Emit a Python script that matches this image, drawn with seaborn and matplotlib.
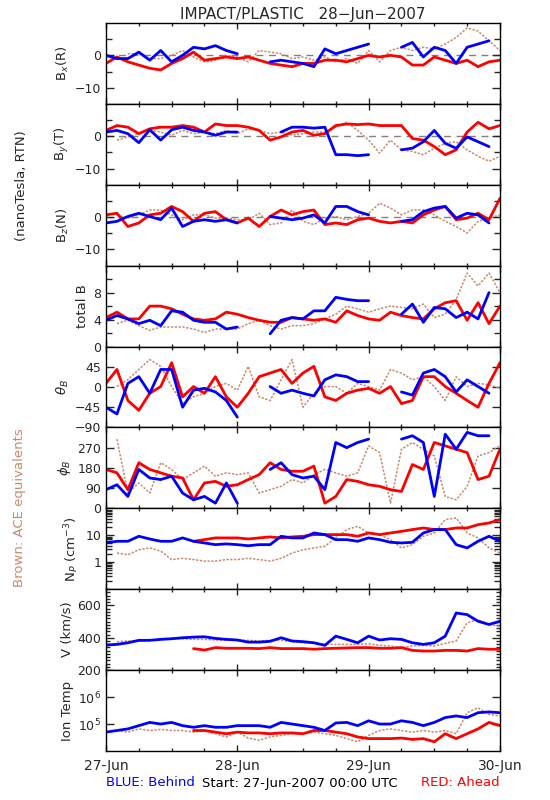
import numpy as np
import pandas as pd
import seaborn as sns
from matplotlib import pyplot as plt
from matplotlib.ticker import MultipleLocator, FixedLocator, NullLocator

nan = np.nan

# time axis: hours since 27-Jun-2007 00:00 UTC, 2-hour samples
hours = np.arange(0, 73, 2)
day_labels = ['27-Jun', '28-Jun', '29-Jun', '30-Jun']

# B_x (R), nT
bx_blue = [0, -1, -1, 1, -1.5, 1.5, -2, 0, 2.5, 2, 3, 1.5, 0.5, nan, nan, -2, -1.5, -2, -2.5,
           -3.5, 2, 0.5, 1.5, 2.5, 3.5, nan, nan, 2.5, 4, -0.5, 2.5, 1.5, -2.5, 2.5, 3.5, 4.5, nan]
bx_red = [-2.5, -0.5, -2, -3, -4, -4.5, -2.5, -1, 1, -1.5, -1, -0.5, -1, -0.5, -1.5, -2.5, -3, -3.5, -2.5,
          -2.5, -1.5, -1.5, -2, -1, 0, -0.5, 0, -0.5, -3, -3, -0.5, -1.5, -2.5, -1.5, -3.5, -2, -1.5]
bx_brown = [nan, nan, 0.5, 0.5, -1, -1, 0, 1.5, -0.5, -2, -1.5, 0, -0.5, -2, 1.5, 1, 0.5, -1, -0.5,
            -1.5, -0.5, -2, -1, -2.5, 1.5, -2, 1.5, 2.5, 1.5, 2.5, 2, 3.5, 5.5, 8.5, 7.5, 4.5, 1.5]

# B_y (T), nT
by_blue = [1.3, 1.8, 0.8, -2, 2, -1.2, 2, 2.8, 1.8, 1.3, 0.3, 1.3, 1.3, nan, nan, nan, 1.3, 2.8, 2.8,
           2.5, 2.8, -5.7, -5.7, -6, -5.7, nan, nan, -4.2, -3.7, -1.7, 1.8, -2.2, -3.7, -0.2, -1.7, -3.2, nan]
by_red = [1.8, 3.3, 2.8, 0.8, 2.3, 2.8, 2.8, 3.3, 2.8, 1.3, 3.8, 3.3, 3.3, 2.8, 1.8, -1.2, -0.2, 1.3, 1.8,
          0.3, 0.8, 3.3, 3.8, 3.6, 3.8, 3.3, 3.3, 3.3, -0.7, -1.2, -3.2, -5.7, -4.2, 1.3, 4.3, 2.3, 3.3]
by_brown = [nan, -1.2, -0.2, 0.8, 1.8, 1.3, 0.3, 1.8, 0.8, 1.3, 0.8, 1.8, 0.8, 2.3, 1.8, 0.8, 1.3, 0.3, 0.8,
            1.3, 1.3, 2.8, 4.3, 1.8, -1.2, -5.2, -1.2, -4.2, -4.7, -5.7, -3.7, -2.2, -1.7, -4.2, -6.2, -7.7, -6.2]

# B_z (N), nT
bz_blue = [-1.8, -1.3, 0.2, 1.2, 0.2, -0.8, 2.8, -2.9, -1.3, -0.8, -1.3, -0.8, -1.8, nan, nan, 0.2, -0.3, -0.8, -0.3,
           0.7, -1.8, 3.3, 3.3, 1.7, 0.7, nan, nan, -1.3, -0.8, 1.7, 2.8, 3.3, -0.3, 1.2, 0.7, -1.8, nan]
bz_red = [0.7, 1.2, -2.9, -1.8, 0.7, 1.2, 3.3, 1.7, -1.3, 1.2, 1.7, -0.8, -1.8, -0.3, -2.9, 0.2, 2.2, 0.7, 1.7,
          2.2, -2.3, -1.8, -2.3, -0.8, -0.3, -1.3, -1.8, -1.3, -1.8, 0.7, 2.2, 3.3, -0.8, -0.3, 1.2, -0.8, 5.8]
bz_brown = [nan, 0.7, -0.3, 0.7, 2.2, 2.2, 0.7, -0.8, 0.7, 0.7, -0.3, -0.3, -0.8, -0.8, 1.2, -2.3, -1.8, 2.2, -1.3,
            -2.3, -0.3, 0.2, -0.8, 0.2, 1.2, 4.3, 2.8, 0.7, 2.2, 2.2, 0.7, -1.3, -2.9, -4.9, -1.3, -0.3, 0.7]

# total B, nT
bt_blue = [3.9, 4.6, 4.1, 3.4, 3.9, 3.1, 5.3, 5.1, 3.9, 3.6, 3.6, 2.6, 2.9, nan, nan, 1.9, 3.9, 4.3, 4.1,
           5.3, 5.3, 7.3, 7.0, 6.8, 6.8, nan, nan, 4.8, 6.3, 3.6, 5.8, 5.6, 4.3, 5.1, 4.1, 8.0, nan]
bt_red = [4.3, 5.1, 4.1, 4.1, 6.0, 6.0, 5.6, 4.8, 4.1, 3.9, 4.1, 5.1, 4.8, 4.3, 3.9, 3.6, 3.6, 4.3, 4.1,
          3.9, 4.1, 3.6, 5.3, 4.6, 4.1, 3.9, 5.1, 4.6, 4.3, 4.1, 5.6, 6.5, 6.8, 3.9, 6.5, 3.4, 6.0]
bt_brown = [nan, 3.4, 3.9, 3.1, 2.4, 2.9, 2.9, 2.9, 2.6, 2.1, 2.6, 2.6, 2.6, 3.4, 3.9, 3.1, 2.6, 3.1, 3.1,
            3.4, 4.1, 4.8, 6.0, 5.6, 5.1, 5.6, 6.0, 5.8, 5.6, 6.3, 4.3, 4.8, 7.0, 10.9, 9.0, 10.9, 8.0]

# theta_B, degrees
th_blue = [-45, -60, 8, 23, -14, 39, 39, -45, -7, -3, -11, -30, -67, nan, nan, 1, -14, -7, -14,
           -20, 16, 27, 23, 12, 12, nan, nan, -11, -18, 31, 39, 23, -11, 16, 1, -14, nan]
th_red = [8, 39, -30, -52, -14, 1, 54, -22, 1, -14, 23, -22, -45, -14, 23, 31, 39, 8, 31,
          46, -22, -30, -14, -7, -3, -14, 1, -37, -30, 23, 23, 1, -14, -30, -45, 8, 54]
th_brown = [nan, 1, 16, 39, 61, 46, 1, -37, -22, -14, 1, 8, -7, 46, -22, -30, 16, 61, -45,
            -14, 1, 1, -14, 8, 1, -7, 39, 31, 16, 23, 1, -30, 23, 1, 8, 5, -3]

# phi_B, degrees
ph_blue = [83, 105, 53, 173, 135, 128, 143, 68, 38, 53, 23, 113, 23, nan, nan, 173, 203, 150, 135,
           143, 83, 293, 270, 293, 308, nan, nan, 308, 323, 293, 53, 330, 263, 338, 323, 323, nan]
ph_red = [173, 158, 83, 203, 173, 158, 143, 135, 38, 113, 120, 98, 105, 128, 150, 203, 173, 165, 165,
          188, 23, 53, 128, 120, 105, 98, 83, 75, 195, 173, 293, 278, 263, 248, 128, 143, 263]
ph_brown = [nan, 308, 68, 113, 68, 203, 173, 128, 158, 188, 143, 158, 150, 158, 68, 83, 98, 128, 113,
            150, 173, 158, 143, 158, 278, 248, 23, 263, 293, 263, 233, 53, 38, 98, 233, 248, 278]

# proton density, cm^-3
np_blue = [5.2, 6.0, 6.0, 9.2, 7.3, 6.0, 6.0, 8.0, 6.0, 5.2, 4.5, 4.8, 4.5, 4.1, 4.5, 4.5, 9.2, 8.0, 8.0,
           12.2, 10.6, 6.9, 6.9, 6.0, 8.0, 6.9, 5.5, 5.2, 5.5, 12.2, 16.3, 16.3, 4.5, 3.4, 6.0, 9.2, 6.0]
np_red = [nan, nan, nan, nan, nan, nan, nan, nan, 6.0, 6.9, 8.0, 8.0, 8.0, 7.3, 8.0, 8.7, 8.0, 8.7, 9.2,
          10.6, 10.6, 10.6, 10.6, 9.2, 12.2, 10.6, 12.2, 14.0, 16.3, 18.7, 16.3, 16.3, 18.7, 18.7, 24.8, 28.6, 38]
np_brown = [nan, 2.2, 1.9, 2.9, 3.4, 2.6, 1.26, 1.4, 1.26, 1.1, 1.1, 1.26, 1.26, 1.4, 1.26, 1.1, 1.4, 2.2, 2.9,
            3.4, 3.9, 8.0, 16.3, 21.5, 12.2, 10.6, 6.9, 3.4, 4.5, 9.2, 12.2, 38, 44, 12.2, 8.0, 3.4, 2.2]

# bulk speed, km/s
v_blue = [355, 359, 369, 384, 384, 390, 394, 400, 404, 406, 396, 390, 386, 373, 373, 378, 400, 380, 376,
          369, 353, 410, 390, 369, 410, 386, 394, 390, 369, 359, 369, 410, 553, 543, 502, 482, 502]
v_red = [nan, nan, nan, nan, nan, nan, nan, nan, 333, 324, 339, 335, 335, 335, 333, 339, 333, 333, 333,
         329, 333, 335, 337, 339, 339, 335, 335, 339, 322, 318, 318, 322, 322, 318, 333, 329, 329]
v_brown = [nan, 376, 380, 380, 384, 390, 394, 394, 390, 390, 386, 384, 386, 384, 380, 384, 384, 376, 369,
           365, 359, 359, 359, 359, 363, 353, 349, 339, 349, 353, 349, 365, 380, 492, 512, 482, 471]

# ion temperature, log10(K)
t_blue = [4.70, 4.76, 4.82, 4.94, 5.06, 5.00, 5.06, 4.94, 4.88, 4.94, 4.88, 4.88, 4.94, 4.94, 4.94, 4.88,
          5.06, 5.00, 4.94, 4.88, 4.76, 5.04, 5.06, 4.94, 5.12, 5.00, 5.00, 5.12, 5.06, 4.94, 5.06, 5.24,
          5.30, 5.24, 5.42, 5.45, 5.42]
t_red = [nan, nan, nan, nan, nan, nan, nan, nan, 4.76, 4.76, 4.70, 4.64, 4.70, 4.67, 4.67, 4.64, 4.67,
         4.67, 4.64, 4.76, 4.76, 4.70, 4.64, 4.52, 4.46, 4.46, 4.46, 4.48, 4.43, 4.46, 4.34, 4.64, 4.46,
         4.64, 4.82, 5.06, 4.94]
t_brown = [nan, 4.76, 4.70, 4.82, 4.76, 4.80, 4.76, 4.76, 4.70, 4.76, 4.64, 4.52, 4.70, 4.48, 4.40, 4.52,
           4.58, 4.64, 4.64, 4.70, 4.64, 4.58, 4.46, 4.34, 4.58, 4.76, 4.82, 4.76, 4.70, 4.76, 4.70, 4.76,
           4.64, 5.42, 5.60, 5.36, 5.30]

BLUE = '#0000ff'
RED = '#ff0000'
BROWN = '#c8896c'

sns.set_style("ticks")
plt.rcParams['font.family'] = ['DejaVu Sans']
plt.rcParams['mathtext.fontset'] = 'dejavusans'


def draw_series(ax, values, color, lw, ls='-'):
    v = np.asarray(values, dtype=float)
    good = ~np.isnan(v)
    df = pd.DataFrame({'hour': hours[good], 'value': v[good], 'seg': np.cumsum(~good)[good]})
    sns.lineplot(data=df, x='hour', y='value', units='seg', estimator=None, color=color,
                 linewidth=lw, linestyle=ls, ax=ax, legend=False)


panels = [
    dict(s=(bx_brown, bx_red, bx_blue), label='B$_x$(R)', lim=(-15, 10), major=[-10, 0], minor=[-5, 5], zero=True),
    dict(s=(by_brown, by_red, by_blue), label='B$_y$(T)', lim=(-15, 10), major=[-10, 0], minor=[-5, 5], zero=True),
    dict(s=(bz_brown, bz_red, bz_blue), label='B$_z$(N)', lim=(-15, 10), major=[-10, 0], minor=[-5, 5], zero=True),
    dict(s=(bt_brown, bt_red, bt_blue), label='total B', lim=(0, 12), major=[0, 4, 8], minor=[2, 6, 10]),
    dict(s=(th_brown, th_red, th_blue), label=r'$\theta_B$', lim=(-90, 90), major=[-90, -45, 0, 45], minor=[]),
    dict(s=(ph_brown, ph_red, ph_blue), label=r'$\phi_B$', lim=(0, 360), major=[0, 90, 180, 270], minor=[]),
    dict(s=(np_brown, np_red, np_blue), label='N$_P$ (cm$^{-3}$)', lim=(0.1, 100), major=[1, 10], log=True),
    dict(s=(v_brown, v_red, v_blue), label='V (km/s)', lim=(200, 700), major=[200, 400, 600], minor=None),
    dict(s=([10 ** x for x in t_brown], [10 ** x for x in t_red], [10 ** x for x in t_blue]),
         label='Ion Temp', lim=(1e4, 1e7), major=[1e5, 1e6], log=True,
         ticklabels=['10$^5$', '10$^6$']),
]

fig, axes = plt.subplots(9, 1, sharex=True, figsize=(5.5, 8), dpi=100)
fig.subplots_adjust(left=0.1927, right=0.909, top=0.97125, bottom=0.06125, hspace=0)

for ax, p in zip(axes, panels):
    if p.get('log'):
        ax.set_yscale('log')
    if p.get('zero'):
        ax.axhline(0, color='#808080', ls=(0, (5, 4)), lw=1, zorder=0.5)
    brown, red, blue = p['s']
    draw_series(ax, brown, BROWN, 1.1, (0, (1.5, 1)))
    draw_series(ax, red, RED, 2.0)
    draw_series(ax, blue, BLUE, 2.0)

    ax.set_ylim(*p['lim'])
    ax.yaxis.set_major_locator(FixedLocator(p['major']))
    if 'ticklabels' in p:
        ax.set_yticklabels(p['ticklabels'])
    elif not p.get('log'):
        ax.set_yticklabels([f'{t:g}'.replace('-', '\u2212') for t in p['major']])
    else:
        ax.set_yticklabels([f'{t:g}' for t in p['major']])
    if p.get('log'):
        if p['label'] == 'Ion Temp':
            ax.yaxis.set_minor_locator(NullLocator())
    elif p.get('minor') is None:
        ax.yaxis.set_minor_locator(MultipleLocator(20))
    else:
        ax.yaxis.set_minor_locator(FixedLocator(p['minor']))

    ax.set_ylabel(p['label'], fontsize=9.5, labelpad=3)
    ax.set_xlabel('')
    ax.tick_params(axis='y', which='major', direction='in', length=6, width=1, right=True, labelsize=9)
    ax.tick_params(axis='y', which='minor', direction='in', length=4 if p.get('minor') is not None or p.get('log') else 3,
                   width=1, right=True)
    ax.tick_params(axis='x', which='major', direction='in', length=4, width=1, top=True, labelsize=10, pad=6)
    ax.tick_params(axis='x', which='minor', direction='in', length=2.5, width=1, top=True)
    for sp in ax.spines.values():
        sp.set_linewidth(1)
        sp.set_color('black')

axes[-1].set_xlim(0, 72)
axes[-1].xaxis.set_major_locator(FixedLocator([0, 24, 48, 72]))
axes[-1].xaxis.set_minor_locator(MultipleLocator(6))
axes[-1].set_xticklabels(day_labels)

axes[0].set_title('IMPACT/PLASTIC   28\u2212Jun\u22122007', fontsize=11, pad=3)

fig.text(22 / 550, 1 - 186 / 800, '(nanoTesla, RTN)', rotation=90, ha='center', va='center', fontsize=9.5)
fig.text(20 / 550, 1 - 508 / 800, 'Brown: ACE equivalents', rotation=90, ha='center', va='center',
         fontsize=9.5, color=BROWN)
fig.text(106 / 550, 1 - 783 / 800, 'BLUE: Behind', color=BLUE, ha='left', va='center', fontsize=9.5)
fig.text(202 / 550, 1 - 783 / 800, 'Start: 27-Jun-2007 00:00 UTC', color='black', ha='left', va='center', fontsize=9.5)
fig.text(500 / 550, 1 - 783 / 800, 'RED: Ahead', color=RED, ha='right', va='center', fontsize=9.5)

fig.savefig('out.png', dpi=100)
